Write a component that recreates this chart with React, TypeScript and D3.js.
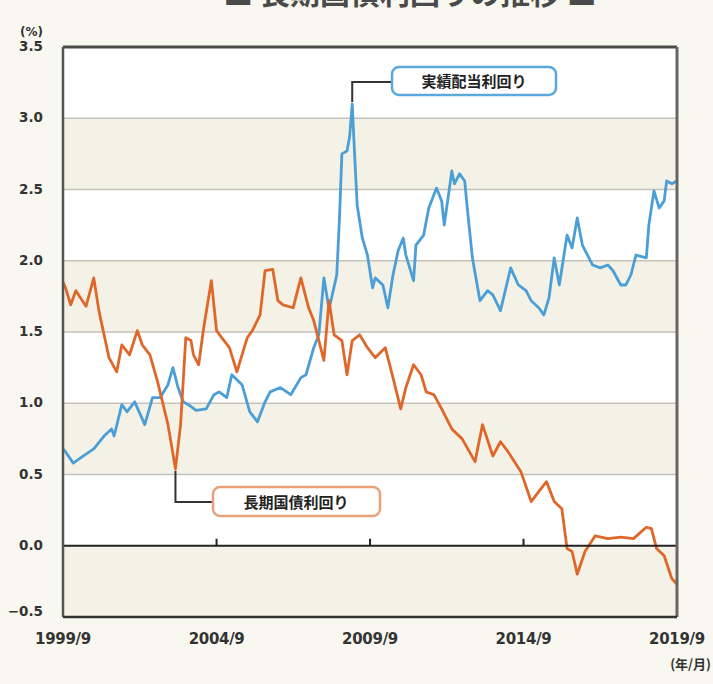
import React from "react";
import * as d3 from "d3";

// ---- Data ----
const yTicks = [3.5, 3.0, 2.5, 2.0, 1.5, 1.0, 0.5, 0.0, -0.5];
const xTickLabels = ["1999/9", "2004/9", "2009/9", "2014/9", "2019/9"];

const dividendDates = [
  "1999/9","1999/10","2000/1","2000/5","2000/9","2001/1","2001/4","2001/5","2001/8","2001/10",
  "2002/1","2002/5","2002/8","2002/11","2003/2","2003/4","2003/6","2003/8","2003/10","2004/1",
  "2004/5","2004/8","2004/10","2005/1","2005/3","2005/7","2005/10","2006/1","2006/4","2006/6",
  "2006/10","2007/2","2007/6","2007/8","2007/11","2008/1","2008/3","2008/5","2008/8","2008/9",
  "2008/10","2008/12","2009/1","2009/2","2009/3","2009/4","2009/6","2009/8","2009/10","2009/11",
  "2010/2","2010/4","2010/6","2010/8","2010/10","2010/11","2011/2","2011/3","2011/6","2011/8",
  "2011/11","2012/1","2012/2","2012/5","2012/6","2012/8","2012/10","2012/11","2013/1","2013/4",
  "2013/7","2013/9","2013/12","2014/4","2014/7","2014/10","2014/12","2015/3","2015/5","2015/7",
  "2015/9","2015/11","2016/2","2016/4","2016/6","2016/8","2016/12","2017/3","2017/6","2017/8",
  "2017/11","2018/1","2018/3","2018/5","2018/9","2018/10","2018/12","2019/2","2019/4","2019/5",
  "2019/7","2019/9"
];
const dividendValues = [
  0.68,0.66,0.58,0.63,0.68,0.77,0.82,0.77,0.99,0.94,
  1.01,0.85,1.04,1.04,1.13,1.25,1.11,1.01,0.99,0.95,
  0.96,1.06,1.08,1.04,1.20,1.13,0.94,0.87,1.01,1.08,
  1.11,1.06,1.18,1.20,1.39,1.48,1.88,1.66,1.90,2.28,
  2.75,2.77,2.87,3.10,2.75,2.39,2.16,2.04,1.81,1.88,
  1.83,1.67,1.90,2.07,2.16,2.04,1.86,2.11,2.18,2.37,
  2.51,2.42,2.25,2.63,2.54,2.61,2.56,2.37,2.02,1.72,
  1.79,1.76,1.65,1.95,1.83,1.79,1.72,1.67,1.62,1.74,
  2.02,1.83,2.18,2.09,2.30,2.11,1.97,1.95,1.97,1.93,
  1.83,1.83,1.90,2.04,2.02,2.25,2.49,2.37,2.42,2.56,
  2.54,2.56
];

const jgbDates = [
  "1999/9","1999/10","1999/12","2000/2","2000/6","2000/9","2000/11","2001/3","2001/6","2001/8",
  "2001/11","2002/2","2002/4","2002/7","2002/10","2003/2","2003/5","2003/7","2003/9","2003/11",
  "2003/12","2004/2","2004/4","2004/7","2004/9","2004/11","2005/2","2005/5","2005/9","2005/11",
  "2006/2","2006/4","2006/7","2006/9","2006/11","2007/3","2007/6","2007/9","2007/11","2008/1",
  "2008/3","2008/5","2008/7","2008/10","2008/12","2009/2","2009/5","2009/8","2009/11","2010/3",
  "2010/6","2010/9","2010/11","2011/2","2011/5","2011/7","2011/10","2012/1","2012/5","2012/9",
  "2013/2","2013/5","2013/9","2013/12","2014/3","2014/8","2014/12","2015/3","2015/6","2015/9",
  "2015/12","2016/2","2016/4","2016/6","2016/9","2017/1","2017/6","2017/11","2018/4","2018/9",
  "2018/11","2019/1","2019/4","2019/7","2019/9"
];
const jgbValues = [
  1.85,1.81,1.69,1.79,1.68,1.88,1.65,1.32,1.22,1.41,
  1.34,1.51,1.41,1.34,1.15,0.85,0.54,0.85,1.46,1.44,
  1.34,1.27,1.53,1.86,1.51,1.46,1.39,1.22,1.46,1.51,
  1.62,1.93,1.94,1.72,1.69,1.67,1.88,1.67,1.58,1.44,
  1.30,1.72,1.48,1.44,1.20,1.44,1.48,1.39,1.32,1.39,
  1.18,0.96,1.11,1.27,1.20,1.08,1.06,0.96,0.82,0.75,
  0.59,0.85,0.63,0.73,0.66,0.52,0.31,0.38,0.45,0.31,
  0.26,-0.02,-0.04,-0.20,-0.04,0.07,0.05,0.06,0.05,0.13,
  0.12,-0.02,-0.07,-0.23,-0.27
];

const title = "■ 長期国債利回りの推移 ■";
const dividendLabel = "実績配当利回り";
const jgbLabel = "長期国債利回り";

// ---- Layout ----
const W = 713;
const H = 684;
const L = 63, R = 677, T = 47, B = 617;

const parse = d3.timeParse("%Y/%m");
const norm = (s: string) => s.replace(/\/(\d)$/, "/0$1");

export default function App() {
  const x = d3.scaleTime()
    .domain([parse("1999/09")!, parse("2019/09")!])
    .range([L, R]);
  const y = d3.scaleLinear().domain([-0.5, 3.5]).range([B, T]);

  const toPts = (dates: string[], vals: number[]) =>
    dates.map((d, i) => ({ date: parse(norm(d))!, v: vals[i] }));

  const line = d3.line<{ date: Date; v: number }>()
    .x((d) => x(d.date))
    .y((d) => y(d.v))
    .curve(d3.curveLinear);

  const divPts = toPts(dividendDates, dividendValues);
  const jgbPts = toPts(jgbDates, jgbValues);

  const bands = d3.range(yTicks.length - 1).map((i) => ({
    top: yTicks[i],
    bottom: yTicks[i + 1],
    fill: i % 2 === 0 ? "#ffffff" : "#f4f2e6",
  }));

  const font = "'DejaVu Sans', 'Noto Sans', sans-serif";
  const cjk = "'Noto Sans CJK JP', sans-serif";

  const divPeak = divPts[d3.maxIndex(divPts, (d) => d.v)];
  const early = jgbPts.slice(0, 30);
  const jgbLow = early[d3.minIndex(early, (d) => d.v)];
  const px = x(divPeak.date), py = y(divPeak.v);
  const lx = x(jgbLow.date), ly = y(jgbLow.v);

  return (
    <svg width={W} height={H} style={{ position: "absolute", left: 0, top: 0, background: "#f9f8f0" }}>
      <rect x={0} y={0} width={W} height={H} fill="#f9f8f0" />
      <text x={410} y={4} textAnchor="middle" fontFamily={cjk} fontWeight={700} fontSize={30} fill="#4a4a4a">
        {title}
      </text>

      {bands.map((b, i) => (
        <rect key={i} x={L} y={y(b.top)} width={R - L} height={y(b.bottom) - y(b.top)} fill={b.fill} />
      ))}
      {yTicks.filter((t) => t !== 0 && t !== 3.5 && t !== -0.5).map((t) => (
        <line key={t} x1={L} x2={R} y1={y(t)} y2={y(t)} stroke="#c4c2ba" strokeWidth={1.6} />
      ))}

      <path d={line(divPts) || ""} fill="none" stroke="#4b9fd6" strokeWidth={2.8} strokeLinejoin="round" />
      <path d={line(jgbPts) || ""} fill="none" stroke="#df672a" strokeWidth={2.8} strokeLinejoin="round" />

      {/* zero line */}
      <line x1={L} x2={R} y1={y(0)} y2={y(0)} stroke="#222" strokeWidth={2} />
      {xTickLabels.slice(1, -1).map((lab) => {
        const xx = x(parse(norm(lab))!);
        return <line key={lab} x1={xx} x2={xx} y1={y(0)} y2={y(0) - 7} stroke="#222" strokeWidth={2} />;
      })}

      {/* frame */}
      <line x1={L} x2={R} y1={T} y2={T} stroke="#4a4a4a" strokeWidth={3} />
      <line x1={L} x2={L} y1={T} y2={B} stroke="#555" strokeWidth={2.5} />
      <line x1={R} x2={R} y1={T} y2={B} stroke="#666" strokeWidth={3} />
      <line x1={L} x2={R} y1={B} y2={B} stroke="#333" strokeWidth={2.5} />

      {/* y tick labels */}
      {yTicks.map((t) => (
        <text key={t} x={43} y={y(t) + (t === 3.5 ? 4 : t === -0.5 ? -1 : 4)} textAnchor="end"
          fontFamily={font} fontWeight={700} fontSize={13.5} fill="#333">
          {t < 0 ? "\u2212" + Math.abs(t).toFixed(1) : t.toFixed(1)}
        </text>
      ))}
      <text x={20} y={36} fontFamily={font} fontWeight={700} fontSize={12} fill="#333">(%)</text>

      {/* x tick labels */}
      {xTickLabels.map((lab) => {
        const xx = x(parse(norm(lab))!);
        return (
          <text key={lab} x={xx} y={644} textAnchor="middle" fontFamily={font} fontWeight={700}
            fontSize={15} fill="#333" letterSpacing={-0.3}>
            {lab}
          </text>
        );
      })}
      <text x={711} y={669} textAnchor="end" fontFamily={cjk} fontWeight={700} fontSize={13} fill="#333">(年/月)</text>

      {/* annotation: dividend yield */}
      <path d={`M${px},${py - 2} V82 H392`} fill="none" stroke="#333" strokeWidth={2} />
      <rect x={392} y={67} width={164} height={28} rx={7} fill="#ffffff" stroke="#5aa9da" strokeWidth={2.5} />
      <text x={474} y={87} textAnchor="middle" fontFamily={cjk} fontWeight={700} fontSize={15} fill="#222">
        {dividendLabel}
      </text>

      {/* annotation: JGB yield */}
      <path d={`M${lx},${ly + 2} V502 H213`} fill="none" stroke="#333" strokeWidth={2} />
      <rect x={213} y={487} width={167} height={29} rx={7} fill="#ffffff" stroke="#e8a27a" strokeWidth={2.5} />
      <text x={296} y={508} textAnchor="middle" fontFamily={cjk} fontWeight={700} fontSize={15} fill="#222">
        {jgbLabel}
      </text>
    </svg>
  );
}
